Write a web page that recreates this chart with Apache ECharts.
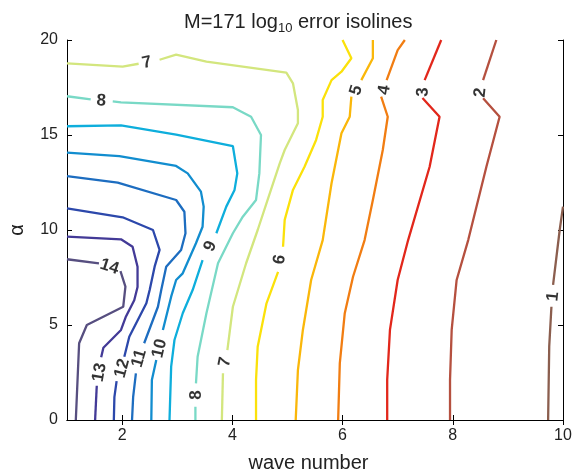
<!DOCTYPE html>
<html>
<head>
<meta charset="utf-8">
<script src="https://cdn.jsdelivr.net/npm/echarts@6/dist/echarts.min.js"></script>
<style>
  html, body { margin: 0; padding: 0; background: #fff; }
  #chart { width: 578px; height: 471px; }
</style>
</head>
<body>
<div id="chart"></div>
<script>
  // isolines of log10 error as [wave number, alpha] pieces
  // (each line is broken where its label sits)
  const line1 = [
    [[10, 11.23], [9.94, 10.0], [9.82, 7.11]],
    [[9.79, 5.96], [9.75, 3.86], [9.73, 0]]
  ]
  const line2 = [
    [[8.79, 20], [8.55, 17.89]],
    [[8.55, 16.93], [8.85, 15.96], [8.61, 13.33], [8.28, 9.47], [8.07, 7.37], [7.98, 4.74], [7.95, 2.11], [7.95, 0]]
  ]
  const line3 = [
    [[7.79, 20], [7.49, 17.89]],
    [[7.45, 16.95], [7.76, 15.96], [7.58, 13.33], [7.19, 9.47], [7.0, 7.37], [6.86, 4.74], [6.81, 2.11], [6.81, 0]]
  ]
  const line4 = [
    [[7.13, 20], [7.0, 19.47], [6.8, 17.89]],
    [[6.7, 17.02], [6.82, 15.96], [6.73, 14.21], [6.55, 11.58], [6.4, 9.47], [6.19, 7.54], [6.04, 5.62], [5.95, 2.98], [5.92, 0]]
  ]
  const line5 = [
    [[6.55, 20], [6.55, 19.04], [6.34, 17.89]],
    [[6.16, 17.02], [6.13, 15.96], [5.98, 15.09], [5.8, 12.46], [5.64, 9.47], [5.43, 7.37], [5.28, 4.74], [5.19, 2.63], [5.15, 0]]
  ]
  const line6 = [
    [[6.0, 20], [6.16, 19.04], [5.98, 18.33], [5.8, 17.89], [5.64, 16.84], [5.64, 15.96], [5.52, 14.74], [5.31, 13.33], [5.1, 12.11], [4.95, 10.53], [4.92, 9.12]],
    [[4.83, 7.8], [4.62, 6.14], [4.46, 3.86], [4.43, 2.11], [4.43, 0]]
  ]
  const line7 = [
    [[1, 18.77], [2.01, 18.6], [2.3, 18.75]],
    [[2.68, 18.96], [2.98, 19.23], [3.53, 18.86], [4.98, 18.28], [5.1, 17.72], [5.19, 16.32], [5.19, 15.62], [5.1, 15.09], [4.95, 14.21], [4.86, 13.51], [4.64, 11.58], [4.46, 10.0], [4.25, 8.25], [4.01, 5.96], [3.91, 3.68]],
    [[3.83, 2.46], [3.81, 0]]
  ]
  const line8 = [
    [[1, 17.04], [1.43, 16.88]],
    [[1.83, 16.77], [1.98, 16.72], [4.01, 16.46], [4.13, 16.28], [4.34, 15.96], [4.52, 15.0], [4.49, 12.98], [4.43, 11.58], [4.19, 10.7], [4.01, 9.83], [3.74, 8.25], [3.53, 5.62], [3.37, 3.33], [3.34, 1.93]],
    [[3.33, 0.7], [3.33, 0]]
  ]
  const line9 = [
    [[1, 15.46], [1.98, 15.51], [2.98, 15.02], [4.01, 14.41], [4.09, 12.98], [4.04, 12.11], [3.89, 11.23], [3.71, 9.83]],
    [[3.46, 8.42], [3.28, 6.84], [3.1, 5.62], [2.95, 4.21], [2.89, 2.81], [2.86, 0]]
  ]
  const line10 = [
    [[1, 14.07], [1.95, 13.89], [2.98, 13.37], [3.19, 12.98], [3.43, 12.02], [3.48, 11.23], [3.46, 10.17], [3.34, 9.3], [3.1, 7.72], [2.98, 7.37], [2.89, 6.49], [2.74, 4.74]],
    [[2.62, 3.16], [2.54, 2.11], [2.53, 0]]
  ]
  const line11 = [
    [[1, 12.84], [1.92, 12.49], [2.98, 11.58], [3.13, 10.96], [3.15, 9.83], [3.07, 8.95], [2.8, 8.07], [2.71, 6.84], [2.65, 5.96], [2.4, 4.04]],
    [[2.25, 2.46], [2.2, 1.2], [2.18, 0]]
  ]
  const line12 = [
    [[1, 11.14], [2.01, 10.67], [2.56, 10.0], [2.68, 8.95], [2.59, 8.07], [2.5, 6.84], [2.44, 6.14], [2.13, 4.38], [2.04, 3.33]],
    [[1.9, 2.05], [1.86, 1.2], [1.85, 0]]
  ]
  const line13 = [
    [[1, 9.65], [1.98, 9.51], [2.19, 9.12], [2.28, 8.07], [2.28, 7.0], [2.22, 6.3], [2.07, 5.45], [1.98, 4.74], [1.8, 4.21], [1.66, 3.8], [1.62, 3.3]],
    [[1.54, 1.8], [1.51, 0]]
  ]
  const line14 = [
    [[1, 8.46], [1.58, 8.24]],
    [[1.97, 7.84], [2.06, 7.02], [2.02, 5.96], [1.36, 5.0], [1.22, 4.04], [1.16, 0]]
  ]

  const levels = [1, 2, 3, 4, 5, 6, 7, 8, 9, 10, 11, 12, 13, 14]
  const isolines = [line1, line2, line3, line4, line5, line6, line7, line8, line9, line10, line11, line12, line13, line14]

  // where each level number is written: [wave number, alpha, level]
  const labelPoints = [
    [9.82, 6.5, 1], [8.5, 17.23, 2], [7.46, 17.26, 3], [6.76, 17.37, 4], [6.25, 17.35, 5],
    [4.86, 8.45, 6], [2.45, 18.8, 7], [3.87, 3.05, 7], [1.62, 16.8, 8], [3.34, 1.32, 8],
    [3.6, 9.15, 9], [2.68, 3.77, 10], [2.31, 3.25, 11], [2.0, 2.72, 12], [1.59, 2.5, 13], [1.77, 8.07, 14]
  ]
  const labelAngles = [84, 84, 88, 80, 72, 80, 12, 79, -3, 90, 66, 77, 74, 75, 80, -18]

  const xTicks = [2, 4, 6, 8, 10]

  const colors = {
    1: '#8b5e4e', 2: '#b5503f', 3: '#e2271b', 4: '#f17d12', 5: '#fab70a', 6: '#fbe10a', 7: '#d3e67e',
    8: '#79d9c6', 9: '#0eaedc', 10: '#128dcf', 11: '#1d6dc0', 12: '#2c48ab', 13: '#433a97', 14: '#574f80'
  }

  const font = 'Liberation Sans, Arial, Helvetica, sans-serif'

  const series = []
  levels.forEach((lv, i) => {
    isolines[i].forEach((piece) => {
      series.push({
        type: 'line',
        data: piece,
        showSymbol: false,
        symbol: 'none',
        silent: true,
        lineStyle: { color: colors[lv], width: 2.3 },
        z: 2
      })
    })
  })
  series.push({
    type: 'scatter',
    symbolSize: 0,
    silent: true,
    z: 5,
    data: labelPoints.map((p, i) => ({
      value: [p[0], p[1]],
      name: String(p[2]),
      label: { rotate: labelAngles[i] }
    })),
    label: {
      show: true,
      position: 'inside',
      formatter: '{b}',
      color: '#000',
      fontSize: 17,
      fontWeight: 'bold',
      fontFamily: font
    }
  })

  const chart = echarts.init(document.getElementById('chart'))
  chart.setOption({
    animation: false,
    backgroundColor: '#fff',
    title: {
      text: '{n|M=171 log}{s|10}{n| error isolines}',
      left: 179,
      top: 5,
      textStyle: {
        rich: {
          n: { fontSize: 20, fontWeight: 'normal', fontFamily: font, color: '#222', lineHeight: 25 },
          s: { fontSize: 13, fontWeight: 'normal', fontFamily: font, color: '#222', lineHeight: 12, verticalAlign: 'bottom' }
        }
      }
    },
    grid: { left: 67, right: 15, top: 40, bottom: 51, outerBoundsMode: 'none' },
    xAxis: [
      {
        type: 'value', min: 1, max: 10,
        name: 'wave number', nameLocation: 'middle', nameGap: 33,
        nameTextStyle: { fontSize: 20, fontFamily: font, color: '#222', padding: [0, 13, 0, 0] },
        axisLine: { show: true, lineStyle: { color: '#000', width: 1 } },
        axisTick: { show: true, inside: true, length: 5, customValues: xTicks, lineStyle: { color: '#000' } },
        axisLabel: { customValues: xTicks, fontSize: 16, fontFamily: font, color: '#222', margin: 8 },
        splitLine: { show: false }
      },
      {
        type: 'value', min: 1, max: 10, position: 'top',
        axisLine: { show: true, lineStyle: { color: '#000', width: 1 } },
        axisTick: { show: true, inside: true, length: 5, customValues: xTicks, lineStyle: { color: '#000' } },
        axisLabel: { show: false },
        splitLine: { show: false }
      }
    ],
    yAxis: [
      {
        type: 'value', min: 0, max: 20, interval: 5,
        name: 'α', nameLocation: 'middle', nameGap: 40,
        nameTextStyle: { fontSize: 20, fontFamily: font, color: '#222' },
        axisLine: { show: true, lineStyle: { color: '#000', width: 1 } },
        axisTick: { show: true, inside: true, length: 5, lineStyle: { color: '#000' } },
        axisLabel: { fontSize: 16, fontFamily: font, color: '#222', margin: 9 },
        splitLine: { show: false }
      },
      {
        type: 'value', min: 0, max: 20, interval: 5, position: 'right',
        axisLine: { show: true, lineStyle: { color: '#000', width: 1 } },
        axisTick: { show: true, inside: true, length: 5, lineStyle: { color: '#000' } },
        axisLabel: { show: false },
        splitLine: { show: false }
      }
    ],
    series: series
  })
</script>
</body>
</html>
